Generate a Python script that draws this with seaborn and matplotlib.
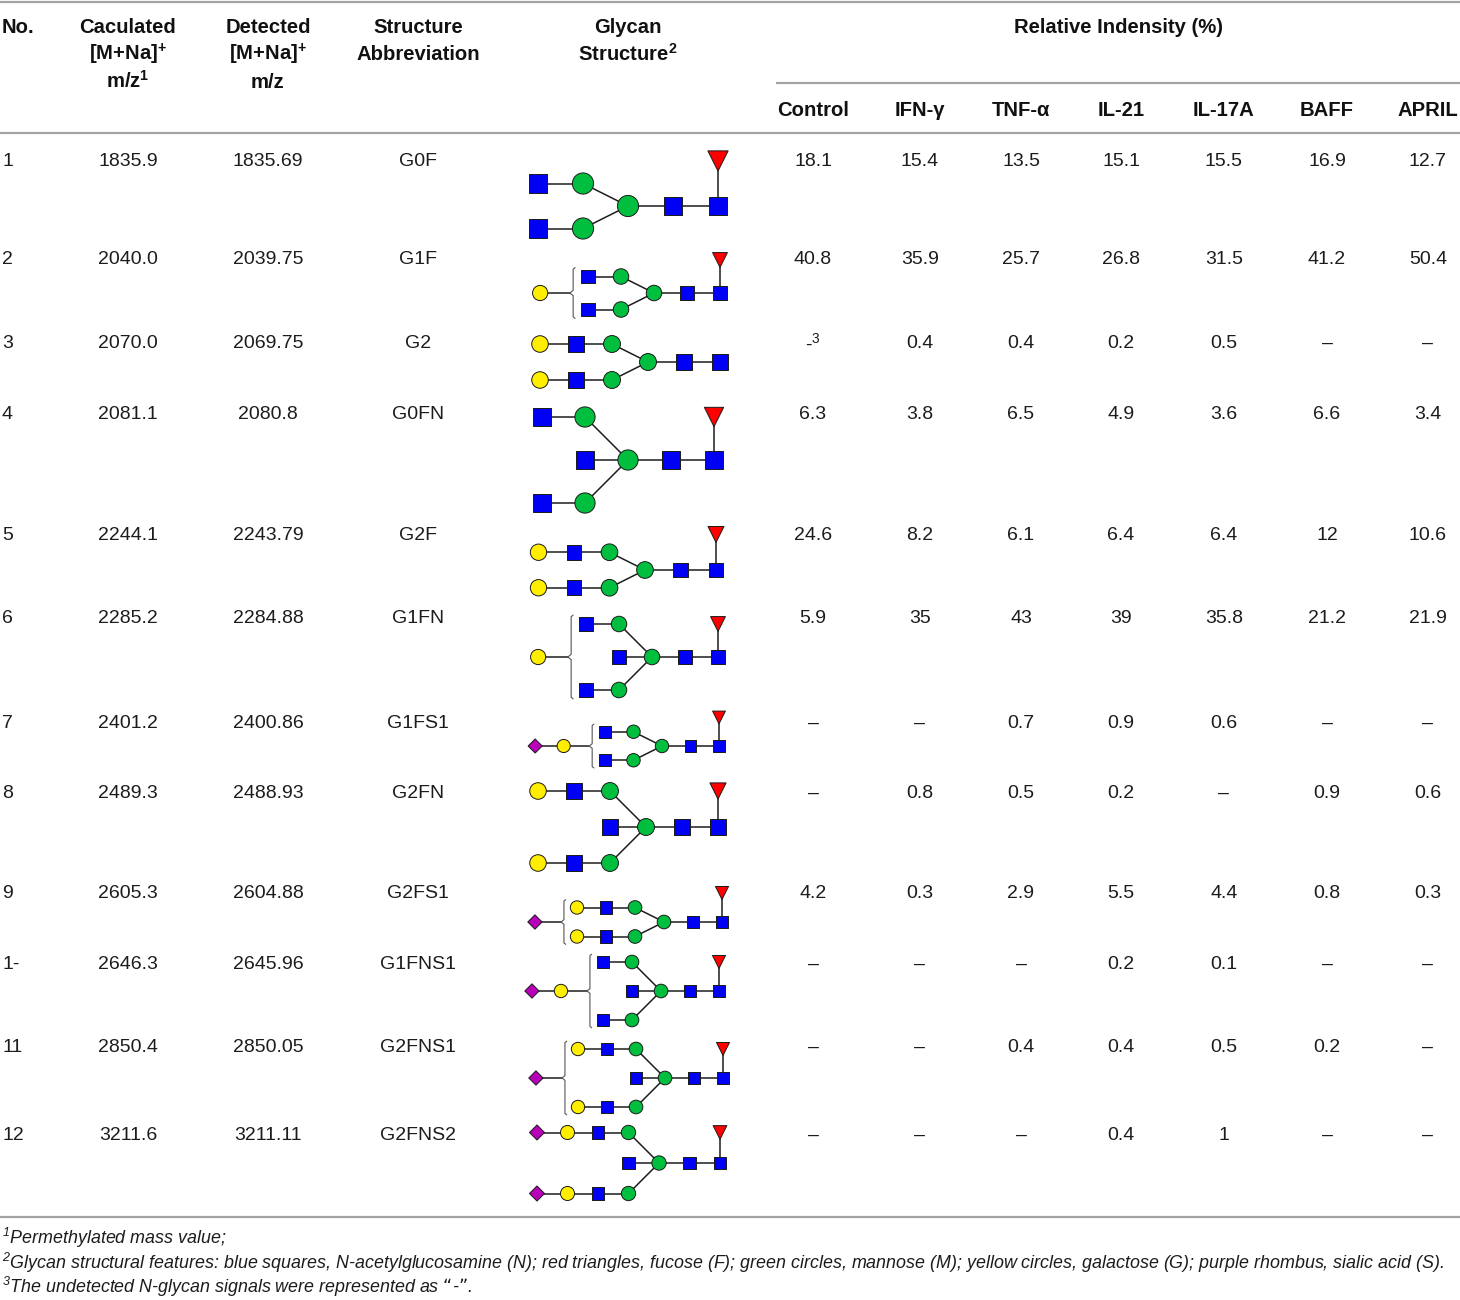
import numpy as np
import pandas as pd
import matplotlib.pyplot as plt
import seaborn as sns

# ---- table data ----
no_labels = ['1', '2', '3', '4', '5', '6', '7', '8', '9', '1-', '11', '12']
calc_mz = ['1835.9', '2040.0', '2070.0', '2081.1', '2244.1', '2285.2', '2401.2',
           '2489.3', '2605.3', '2646.3', '2850.4', '3211.6']
det_mz = ['1835.69', '2039.75', '2069.75', '2080.8', '2243.79', '2284.88', '2400.86',
          '2488.93', '2604.88', '2645.96', '2850.05', '3211.11']
abbr = ['G0F', 'G1F', 'G2', 'G0FN', 'G2F', 'G1FN', 'G1FS1', 'G2FN', 'G2FS1',
        'G1FNS1', 'G2FNS1', 'G2FNS2']

groups = ['Control', 'IFN-γ', 'TNF-α', 'IL-21', 'IL-17A', 'BAFF', 'APRIL']
nan = np.nan
control = [18.1, 40.8, nan, 6.3, 24.6, 5.9, nan, nan, 4.2, nan, nan, nan]
ifn_g = [15.4, 35.9, 0.4, 3.8, 8.2, 35, nan, 0.8, 0.3, nan, nan, nan]
tnf_a = [13.5, 25.7, 0.4, 6.5, 6.1, 43, 0.7, 0.5, 2.9, nan, 0.4, nan]
il_21 = [15.1, 26.8, 0.2, 4.9, 6.4, 39, 0.9, 0.2, 5.5, 0.2, 0.4, 0.4]
il_17a = [15.5, 31.5, 0.5, 3.6, 6.4, 35.8, 0.6, nan, 4.4, 0.1, 0.5, 1]
baff = [16.9, 41.2, nan, 6.6, 12, 21.2, nan, 0.9, 0.8, nan, 0.2, nan]
april = [12.7, 50.4, nan, 3.4, 10.6, 21.9, nan, 0.6, 0.3, nan, nan, nan]

# glycan topology: arms read from the core mannose outwards
# N = GlcNAc, M = mannose, G = galactose, F = fucose, S = sialic acid
arm_upper = ['MN', 'MN', 'MNG', 'MN', 'MNG', 'MN', 'MN', 'MNG', 'MNG', 'MN', 'MNG', 'MNGS']
arm_lower = ['MN', 'MN', 'MNG', 'MN', 'MNG', 'MN', 'MN', 'MNG', 'MNG', 'MN', 'MNG', 'MNGS']
bracket_res = ['', 'G', '', '', '', 'G', 'GS', '', 'S', 'GS', 'S', '']
bisecting = [0, 0, 0, 1, 0, 1, 0, 1, 0, 1, 1, 1]
core_fucose = [1, 1, 0, 1, 1, 1, 1, 1, 1, 1, 1, 1]

footnotes = ['$^{1}$Permethylated mass value;',
             '$^{2}$Glycan structural features: blue squares, N-acetylglucosamine (N); '
             'red triangles, fucose (F); green circles, mannose (M); yellow circles, '
             'galactose (G); purple rhombus, sialic acid (S).',
             '$^{3}$The undetected N-glycan signals were represented as \u201c-\u201d.']

# ---- layout (pixels) ----
W, H = 1460, 1300
row_base = [166, 264, 348, 419, 540, 623, 728, 798, 898, 969, 1052, 1140]
col_x = [813, 920, 1021, 1121, 1224, 1327, 1428]
gly_cx = [628, 654, 648, 628, 645, 652, 662, 646, 664, 661, 665, 659]
gly_cy = [206, 293, 362, 460, 570, 657, 746, 827, 922, 991, 1078, 1163]
gly_step = [45, 33, 36, 43, 35.5, 33, 28.5, 36, 29, 29, 29, 30.5]

res_color = {'N': '#0000f5', 'M': '#00bf3f', 'G': '#ffee00', 'F': '#ff0000', 'S': '#b800b8'}
res_marker = {'N': 's', 'M': 'o', 'G': 'o', 'F': 'v', 'S': 'D'}
res_frac = {'N': 0.42, 'M': 0.47, 'G': 0.46, 'F': 0.45, 'S': 0.35}

sns.set_theme(style='white')
plt.rcParams['font.family'] = ['Liberation Sans', 'DejaVu Sans']
plt.rcParams['mathtext.default'] = 'regular'

fig = plt.figure(figsize=(14.6, 13), dpi=100)
ax = fig.add_axes([0, 0, 1, 1])

# build glycan residues and links
rows = []
links = []
braces = []
for i in range(len(abbr)):
    cx, cy, st = gly_cx[i], gly_cy[i], gly_step[i]
    def add(x, y, t):
        rows.append({'x': x, 'y': y, 'type': t, 's': (res_frac[t] * st * 0.72) ** 2})
    add(cx, cy, 'M')
    add(cx + st, cy, 'N')
    add(cx + 2 * st, cy, 'N')
    links.append(((cx, cy), (cx + 2 * st, cy)))
    if core_fucose[i]:
        add(cx + 2 * st, cy - st, 'F')
        links.append(((cx + 2 * st, cy), (cx + 2 * st, cy - st)))
    dy = st if bisecting[i] else 0.5 * st
    if bisecting[i]:
        add(cx - st, cy, 'N')
        links.append(((cx, cy), (cx - st, cy)))
    for sign, arm in [(-1, arm_upper[i]), (1, arm_lower[i])]:
        px, py = cx, cy
        for k, r in enumerate(arm):
            x, y = cx - (k + 1) * st, cy + sign * dy
            add(x, y, r)
            links.append(((px, py), (x, y)))
            px, py = x, y
    if bracket_res[i]:
        end = cx - len(arm_upper[i]) * st
        xb = end - 0.45 * st
        top, bot = cy - dy - 0.22 * st, cy + dy + 0.22 * st
        braces.append(([xb + 0.06 * st, xb, xb, xb - 0.1 * st, xb, xb, xb + 0.06 * st],
                       [top - 0.05 * st, top, cy - 0.08 * st, cy, cy + 0.08 * st, bot, bot + 0.05 * st]))
        px = xb - 0.1 * st
        for k, r in enumerate(bracket_res[i]):
            x = end - (1.45 + k) * st
            add(x, cy, r)
            links.append(((px, cy), (x, cy)))
            px = x

res_df = pd.DataFrame(rows)

for (x0, y0), (x1, y1) in links:
    ax.plot([x0, x1], [y0, y1], color='#1e1e1e', lw=1.1, zorder=2)
for bx, by in braces:
    ax.plot(bx, by, color='#555555', lw=0.8, zorder=2)

smin, smax = res_df['s'].min(), res_df['s'].max()
sns.scatterplot(data=res_df, x='x', y='y', hue='type', style='type', size='s',
                sizes=(smin, smax), size_norm=(smin, smax), palette=res_color,
                markers=res_marker, edgecolor='#1a1a1a', linewidth=0.7,
                legend=False, ax=ax, zorder=4)

# ---- rules ----
rule = '#a3a3a3'
ax.hlines([2, 133, 1217], 0, W, color=rule, lw=1.6)
ax.hlines(83, 776, W, color=rule, lw=1.6)

# ---- header ----
hfs = 14.6
hb = dict(fontsize=hfs, fontweight='bold', color='#111111', va='baseline')
ax.text(2, 33, 'No.', ha='left', **hb)
for x, lines in [(128, ['Caculated', '[M+Na]$^{+}$', 'm/z$^{1}$']),
                 (268, ['Detected', '[M+Na]$^{+}$', 'm/z']),
                 (418, ['Structure', 'Abbreviation']),
                 (628, ['Glycan', 'Structure$^{2}$'])]:
    for j, s in enumerate(lines):
        ax.text(x, 33 + j * 27.5, s, ha='center', **hb)
ax.text(1118, 33, 'Relative Indensity (%)', ha='center', **hb)
for x, g in zip(col_x, groups):
    ax.text(x, 116, g, ha='center', **hb)

# ---- body ----
db = dict(fontsize=14, color='#1c1c1c', va='baseline')
values = [control, ifn_g, tnf_a, il_21, il_17a, baff, april]
for i in range(len(abbr)):
    yb = row_base[i]
    ax.text(2, yb, no_labels[i], ha='left', **db)
    ax.text(128, yb, calc_mz[i], ha='center', **db)
    ax.text(268, yb, det_mz[i], ha='center', **db)
    ax.text(418, yb, abbr[i], ha='center', **db)
    for x, col in zip(col_x, values):
        v = col[i]
        if np.isnan(v):
            s = '-$^{3}$' if (col is control and i == 2) else '\u2013'
        else:
            s = '{:g}'.format(v)
        ax.text(x, yb, s, ha='center', **db)

# ---- footnotes ----
for y, s in zip([1244, 1269, 1293], footnotes):
    ax.text(2, y, s, ha='left', va='baseline', fontsize=12.87, style='italic', color='#1c1c1c')

ax.set_xlim(0, W)
ax.set_ylim(H, 0)
ax.set_axis_off()
fig.savefig('out.png', dpi=100)
